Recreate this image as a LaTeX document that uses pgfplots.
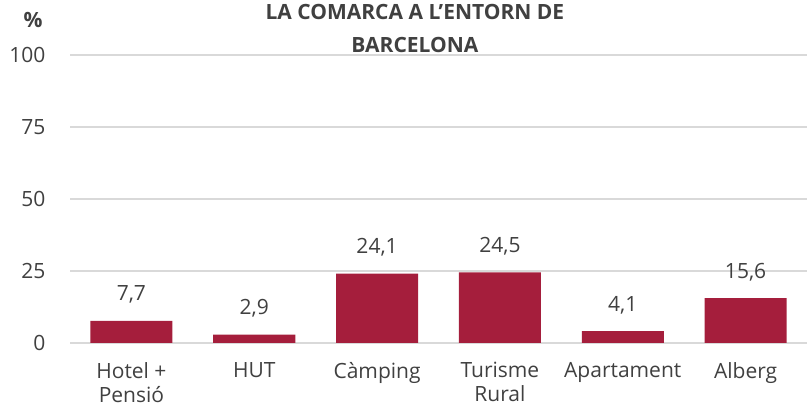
\documentclass[border=0pt]{standalone}
\usepackage{pgfplots}
\pgfplotsset{compat=1.18}
\usepackage{fontspec}
\setmainfont{Open Sans}
\definecolor{barred}{HTML}{A51E3C}
\definecolor{txt}{HTML}{404040}
\definecolor{gridc}{HTML}{D9D9D9}
\begin{document}
\begin{tikzpicture}[font=\fontsize{21bp}{27bp}\selectfont, text=txt]
\path[use as bounding box] (0,0) rectangle (807bp,407bp);
\begin{axis}[
  at={(70bp,64bp)}, anchor=south west,
  scale only axis, width=737bp, height=288bp,
  xmin=-0.5, xmax=5.5, ymin=0, ymax=100,
  ytick={0,25,50,75,100},
  xtick={0,1,2,3,4,5},
  xticklabels={{Hotel +\\Pensió},{HUT},{Càmping},{Turisme\\Rural},{Apartament},{Alberg}},
  xticklabel style={align=center, anchor=north, inner sep=0pt, yshift=-15bp, text=txt, font=\fontsize{21bp}{24bp}\selectfont},
  yticklabel style={xshift=-21bp, text=txt},
  /pgf/number format/assume math mode=true,
  axis line style={draw=none},
  tick style={draw=none},
  ymajorgrids, xmajorgrids=false, grid style={gridc, line width=1.5bp},
  title={\bfseries LA COMARCA A L'ENTORN DE\\\bfseries BARCELONA},
  title style={align=center, at={(0.468,1.0)}, anchor=south, yshift=-7bp, text=txt, font=\fontsize{21bp}{33bp}\selectfont},
  ybar, bar width=82bp,
  nodes near coords,
  nodes near coords style={anchor=base, yshift=20bp, text=txt, /pgf/number format/.cd, fixed, precision=1, fixed zerofill, use comma, assume math mode=true},
]
\addplot[fill=barred, draw=none] coordinates {(0,7.7) (1,2.9) (2,24.1) (3,24.5) (4,4.1) (5,15.6)};
\end{axis}
\node[font=\bfseries\fontsize{21bp}{27bp}\selectfont, text=txt] at (33bp,387bp) {\%};
\end{tikzpicture}
\end{document}
